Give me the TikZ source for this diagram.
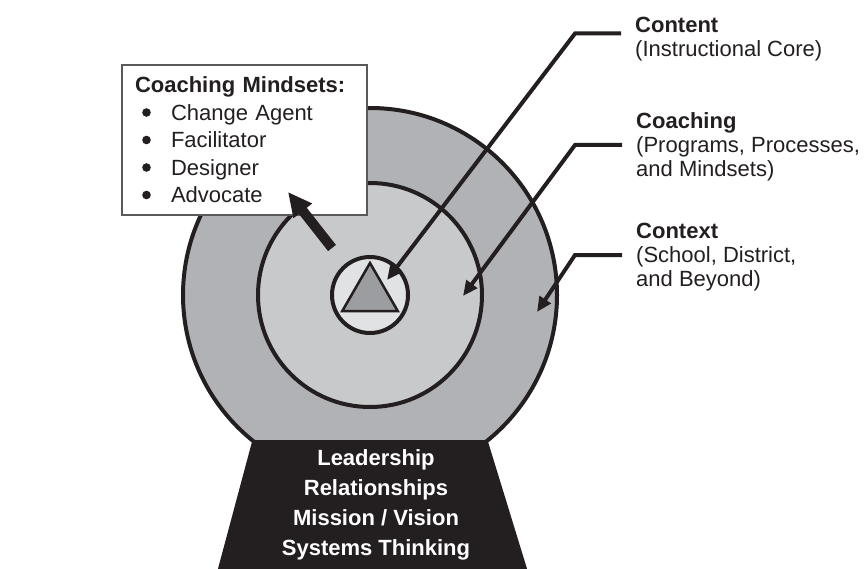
\documentclass[tikz,border=0pt]{standalone}
\usepackage{fontspec}
\setmainfont{Liberation Sans}
\usepackage{tikz}
\usetikzlibrary{positioning,arrows.meta,shapes.geometric,calc}
\definecolor{ink}{HTML}{231F20}
\definecolor{outerg}{HTML}{B1B2B5}
\definecolor{midg}{HTML}{C8C9CB}
\definecolor{innerg}{HTML}{E1E2E4}
\definecolor{trig}{HTML}{9C9DA0}
\definecolor{frameg}{HTML}{58595B}

\begin{document}
\begin{tikzpicture}[x=1pt, y=-1pt, >={Triangle[length=15pt, width=13pt]},
  font=\fontsize{22}{24}\selectfont, text=ink,
  ring/.style={circle, draw=ink, line width=4pt, inner sep=0pt},
  lbl/.style={anchor=north west, align=left, inner sep=0pt},
  ptr/.style={->, draw=ink, line width=4pt}]
  \useasboundingbox (0,0) rectangle (866,569);
  \node[ring, fill=outerg, minimum size=374pt] (ctx) at (370,295) {};
  \filldraw[ink, line width=4pt, line join=round] (254,442) -- (486,442) -- (525,569) -- (220,569) -- cycle;
  \node[ring, fill=midg, minimum size=224pt] (coach) at (ctx.center) {};
  \node[ring, fill=innerg, minimum size=76pt] (core) at (ctx.center) {};
  \node[regular polygon, regular polygon sides=3, draw=ink, fill=trig, line width=2.5pt,
    minimum size=64pt, inner sep=0pt] (tri) at (core.center) {};
  \node[font=\bfseries\fontsize{22}{30}\selectfont, text=white, align=center, anchor=north,
    inner sep=0pt] (pillars) at (376,449) {Leadership\\Relationships\\Mission / Vision\\Systems Thinking};

  \node[draw=frameg, fill=white, line width=1.5pt, anchor=north west, outer sep=0pt,
    minimum width=245pt, minimum height=150pt, text width=219pt, inner xsep=13pt, inner ysep=0pt,
    align=left, font=\fontsize{22}{27.5}\selectfont] (mind) at (122,65)
    {\textbf{Coaching Mindsets:}\\
     \hspace*{36pt}Change Agent\\
     \hspace*{36pt}Facilitator\\
     \hspace*{36pt}Designer\\
     \hspace*{36pt}Advocate};
  \foreach \i in {0,...,3}
    \fill[ink] (146.5,112.5+27.5*\i) circle[radius=4.3pt];
  \coordinate (mindfoot) at (332,248);
  \coordinate (mindtip) at (288,192);
  \draw[-{Triangle[length=24pt, width=22pt]}, ink, line width=10pt] (mindfoot) -- (mindtip);

  \node[lbl] (lcontent) at (635,17) {\textbf{Content}\\(Instructional Core)};
  \node[lbl] (lcoach) at (636,112) {\textbf{Coaching}\\(Programs, Processes,\\and Mindsets)};
  \node[lbl] (lctx) at (636,223) {\textbf{Context}\\(School, District,\\and Beyond)};
  \coordinate (coretip) at (387,280);
  \coordinate (coachtip) at (463,296);
  \coordinate (ctxtip) at (537,312);
  \draw[ptr] ([shift={(-14,16.5)}]lcontent.north west) -- ++(-46,0) -- (coretip);
  \draw[ptr] ([shift={(-14,33)}]lcoach.north west) -- ++(-47,0) -- (coachtip);
  \draw[ptr] ([shift={(-14,32)}]lctx.north west) -- ++(-47,0) -- (ctxtip);
\end{tikzpicture}
\end{document}
